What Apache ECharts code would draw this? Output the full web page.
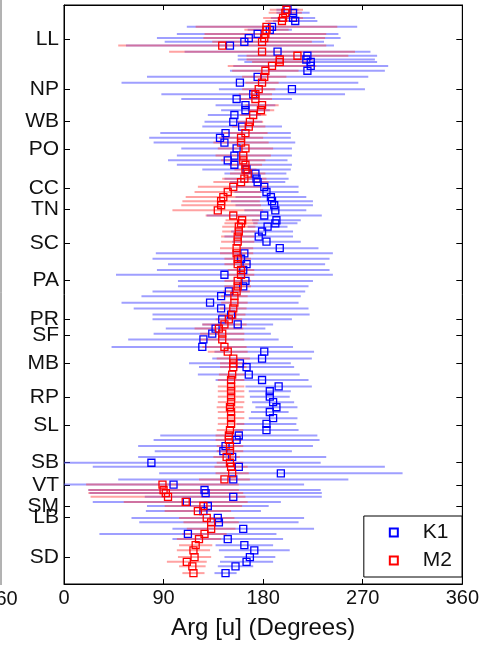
<!DOCTYPE html>
<html>
<head>
<meta charset="utf-8">
<script src="https://cdn.jsdelivr.net/npm/echarts@6/dist/echarts.min.js"></script>
<style>
  html, body { margin: 0; padding: 0; background: #fff; }
  #chart { width: 482px; height: 645px; }
</style>
</head>
<body>
<div id="chart"></div>
<script>
// station row position (top = 0)
var rowPos = [1.4,2.3,3.8,4.7,6.4,7.3,8.5,9.7,10.8,11.9,13.7,14.9,16.0,16.7,17.9,19.3,21.1,22.8,24.7,26.2,
  27.6,29.4,30.9,32.3,34.3,35.7,37.6,39.0,40.4,42.1,44.2,45.6,46.9,48.3,49.5,51.0,52.0,53.4,54.9,56.4,
  57.6,58.8,60.3,61.8,63.2,64.1,65.1,66.5,68.0,69.5,71.4,72.9,74.5,76.1,77.8,79.2,81.0,82.6,84.1,85.5,
  87.4,89.1,90.9,92.3,93.8,95.0,96.5,98.2,100.4,101.8,103.8,105.2,106.3,108.5,110.1,112.0,113.4,115.0,116.6,118.1,
  119.5,121.3,123.0,124.8,126.4,127.7,129.5,131.0,132.7,134.4,135.6,137.5,139.3,140.8,142.4,143.3,144.4,145.9,147.1,148.6,
  150.6,151.9,153.8,155.3,156.8,158.6,160.1,162.1,163.5,164.8,166.8];

var k1Arg = [202,207,207,209,188,186,175,167,163,150,193,220,219,223,223,220,175,159,206,171,
  156,164,164,154,153,161,146,141,145,156,154,148,154,165,173,174,175,181,183,187,
  188,190,191,181,192,191,184,179,176,183,195,163,160,165,162,145,164,162,149,142,
  132,142,151,143,157,137,134,126,125,181,179,159,165,167,179,194,186,186,189,192,
  186,189,183,183,158,156,146,144,152,79,158,196,153,99,127,128,153,111,130,126,
  139,140,162,112,148,163,172,168,165,155,146];
var k1Err = [10,15,20,20,77,20,73,83,72,94,84,63,62,60,70,70,100,107,66,83,
  50,27,22,24,26,36,59,64,64,50,52,54,52,40,28,29,25,31,29,32,
  37,35,28,52,22,20,18,28,31,31,35,80,80,71,78,98,61,59,69,72,
  80,79,71,63,32,45,53,68,82,45,45,46,43,46,42,30,19,18,19,19,
  17,22,27,29,71,75,79,62,85,153,132,110,104,118,105,105,80,85,55,52,
  78,72,64,80,50,26,32,23,24,16,10];

var m2Arg = [201,200,198,197,183,183,182,181,179,143,179,211,195,195,188,182,181,179,176,173,
  173,179,178,171,168,167,164,160,160,164,162,162,164,164,166,163,160,153,148,144,
  142,142,139,153,161,160,158,158,157,157,156,156,157,157,160,160,157,157,156,154,
  154,153,152,149,145,140,143,143,145,148,153,153,153,152,151,151,151,151,151,150,
  151,151,151,150,149,149,150,150,147,150,151,152,145,89,90,92,94,110,126,121,
  129,133,133,127,122,119,117,118,111,116,117];
var m2Err = [15,15,18,15,64,20,55,55,45,94,84,46,30,25,40,30,20,15,15,15,
  15,15,12,12,12,15,20,20,25,25,25,20,15,10,16,20,25,32,30,34,
  35,36,41,25,15,15,15,15,15,15,15,15,12,12,12,12,12,12,12,12,
  12,12,12,12,20,22,20,20,20,18,15,12,12,12,12,12,12,12,12,12,
  12,12,12,12,12,12,12,12,12,12,15,15,23,69,68,70,70,56,35,30,
  25,25,22,20,20,15,15,15,18,12,10];

var stationNames = ['LL','NP','WB','PO','CC','TN','SC','PA','PR','SF','MB','RP','SL','SB','VT','SM','LB','SD'];
var stationPos = [10.0,24.7,34.2,42.3,53.7,60.1,70.0,80.7,92.3,96.9,105.2,115.2,123.4,134.3,140.9,147.1,150.4,162.0];
var xTicks = [0, 90, 180, 270, 360];

var FONT = '"Liberation Sans", Arial, sans-serif';

function barData(args, errs) {
  return rowPos.map(function (p, i) {
    return [Math.max(0, args[i] - errs[i]), Math.min(360, args[i] + errs[i]), p];
  });
}
function pointData(args) {
  return rowPos.map(function (p, i) { return [args[i], p]; });
}
function barSeries(name, data, color) {
  return {
    name: name,
    type: 'custom',
    silent: true,
    encode: { x: [0, 1], y: 2 },
    data: data,
    renderItem: function (params, api) {
      var a = api.coord([api.value(0), api.value(2)]);
      var b = api.coord([api.value(1), api.value(2)]);
      return {
        type: 'line',
        shape: { x1: a[0], y1: a[1], x2: b[0], y2: b[1] },
        style: { stroke: color, lineWidth: 2 }
      };
    }
  };
}
function pointSeries(name, data, color) {
  return {
    name: name,
    type: 'scatter',
    symbol: 'rect',
    symbolSize: 7,
    data: data,
    itemStyle: { color: 'rgba(0,0,0,0)', borderColor: color, borderWidth: 1.3, opacity: 1 }
  };
}

var chart = echarts.init(document.getElementById('chart'));
var tickLabel = { fontSize: 20, fontFamily: FONT, color: '#111' };
// onZero off so each axis stays on its own side; ticks point into the plot
var axLine = { show: true, onZero: false, lineStyle: { color: '#000' } };
var xTick = { show: true, inside: true, length: 5, lineStyle: { color: '#000' } };
var yTick = { show: true, inside: true, length: 6, customValues: stationPos, lineStyle: { color: '#000' } };

chart.setOption({
  animation: false,
  grid: { left: 64, right: 11, top: 5, bottom: 60, show: true, borderColor: '#000', borderWidth: 1 },
  xAxis: [{
    type: 'value', min: 0, max: 360, interval: 90, position: 'bottom',
    name: 'Arg [u] (Degrees)', nameLocation: 'middle', nameGap: 32,
    nameTextStyle: { fontSize: 24, fontFamily: FONT, color: '#111' },
    axisLine: axLine,
    axisTick: xTick,
    axisLabel: Object.assign({ margin: 4, customValues: xTicks }, tickLabel),
    splitLine: { show: false }
  }, {
    type: 'value', min: 0, max: 360, interval: 90, position: 'top',
    axisLine: axLine,
    axisTick: xTick,
    axisLabel: { show: false },
    splitLine: { show: false }
  }],
  yAxis: [{
    type: 'value', inverse: true, min: 0, max: 170, position: 'left',
    axisLine: axLine,
    axisTick: yTick,
    axisLabel: Object.assign({
      margin: 5,
      customValues: stationPos,
      formatter: function (v, i) { return stationNames[stationPos.indexOf(v)] || stationNames[i]; }
    }, tickLabel, { fontSize: 21 }),
    splitLine: { show: false }
  }, {
    type: 'value', inverse: true, min: 0, max: 170, position: 'right',
    axisLine: axLine,
    axisTick: yTick,
    axisLabel: { show: false },
    splitLine: { show: false }
  }],
  legend: {
    data: ['K1', 'M2'],
    orient: 'vertical',
    right: 20, bottom: 68,
    backgroundColor: '#fff',
    borderColor: '#000', borderWidth: 1, borderRadius: 0,
    padding: [6, 10, 6, 25],
    itemGap: 7, itemWidth: 8, itemHeight: 8,
    icon: 'rect',
    textStyle: { fontSize: 21, fontFamily: FONT, color: '#111', padding: [0, 0, 0, 20] }
  },
  graphic: [
    { type: 'line', shape: { x1: 1, y1: 0, x2: 1, y2: 585 }, style: { stroke: '#666', lineWidth: 1 } },
    { type: 'text', x: 1, y: 589, style: { text: '360', fontSize: 20, fontFamily: FONT, fill: '#111', textAlign: 'center' } }
  ],
  series: [
    barSeries('K1 err', barData(k1Arg, k1Err), 'rgba(80,80,255,0.55)'),
    pointSeries('K1', pointData(k1Arg), '#0000ff'),
    barSeries('M2 err', barData(m2Arg, m2Err), 'rgba(255,70,70,0.5)'),
    pointSeries('M2', pointData(m2Arg), '#ff0000')
  ]
});
</script>
</body>
</html>
